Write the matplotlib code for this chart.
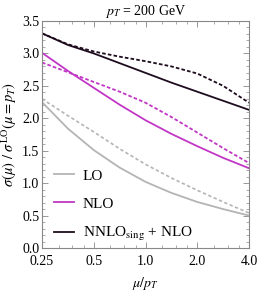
import matplotlib
matplotlib.use("Agg")
import matplotlib.pyplot as plt
import numpy as np
from matplotlib.ticker import FixedLocator, NullFormatter, MultipleLocator

plt.rcParams['font.family'] = ['Liberation Serif', 'DejaVu Serif']
plt.rcParams['mathtext.fontset'] = 'stix'

# mu / pT values and ratios
mu = [0.25, 0.354, 0.5, 0.707, 1.0, 1.414, 2.0, 2.83, 4.0]
lo = [2.25, 1.84, 1.51, 1.24, 1.02, 0.85, 0.71, 0.60, 0.50]
lo_dash = [2.30, 2.04, 1.79, 1.53, 1.29, 1.08, 0.89, 0.71, 0.54]
nlo = [3.01, 2.73, 2.47, 2.21, 1.97, 1.76, 1.57, 1.39, 1.23]
nlo_dash = [2.86, 2.71, 2.56, 2.41, 2.24, 2.02, 1.78, 1.54, 1.31]
nnlo = [3.31, 3.13, 3.00, 2.85, 2.70, 2.55, 2.41, 2.27, 2.13]
nnlo_dash = [3.31, 3.14, 3.03, 2.95, 2.88, 2.80, 2.69, 2.50, 2.24]

xticks = [0.25, 0.5, 1.0, 2.0, 4.0]
xticklabels = ["0.25", "0.5", "1.0", "2.0", "4.0"]

c_lo = '#b4b4b4'
c_nlo = '#c236c6'
c_nnlo = '#1e0c1e'

fig = plt.figure(figsize=(2.58, 2.91), dpi=100)
ax = fig.add_axes([42/258, 43/291, 207/258, 227/291])

ax.plot(mu, lo_dash, color=c_lo, lw=1.2, ls=(0, (2, 1.5)))
ax.plot(mu, lo, color=c_lo, lw=1.3, label='LO')
ax.plot(mu, nlo_dash, color=c_nlo, lw=1.3, ls=(0, (2, 1.2)))
ax.plot(mu, nlo, color=c_nlo, lw=1.3, label='NLO')
ax.plot(mu, nnlo_dash, color=c_nnlo, lw=1.3, ls=(0, (2, 1.2)))
ax.plot(mu, nnlo, color=c_nnlo, lw=1.3, label=r'NNLO$_{\rm sing}$ + NLO')

ax.set_xscale('log', base=2)
ax.set_xlim(0.25, 4.0)
ax.set_ylim(0, 3.5)
ax.xaxis.set_major_locator(FixedLocator(xticks))
ax.set_xticklabels(xticklabels)
minor = [m * f for m in [0.25, 0.5, 1, 2] for f in [1.25, 1.5, 1.75]]
ax.xaxis.set_minor_locator(FixedLocator(minor))
ax.xaxis.set_minor_formatter(NullFormatter())
ax.yaxis.set_minor_locator(MultipleLocator(0.1))
ax.set_yticks([0, 0.5, 1.0, 1.5, 2.0, 2.5, 3.0, 3.5])
ax.set_yticklabels(["0.0", "0.5", "1.0", "1.5", "2.0", "2.5", "3.0", "3.5"])

for s in ax.spines.values():
    s.set_color('#888888')
    s.set_linewidth(0.8)
ax.tick_params(which='both', direction='in', top=True, right=True,
               colors='#888888', labelcolor='black', labelsize=10)
ax.tick_params(axis='y', pad=2)
ax.tick_params(axis='x', pad=5)
ax.tick_params(which='major', length=4, width=0.6)
ax.tick_params(which='minor', length=2, width=0.5)

ax.set_title(r'$p_T$ = 200 GeV', fontsize=10, pad=4)
ax.set_xlabel(r'$\mu/p_T$', fontsize=10, labelpad=5)
ax.set_ylabel(r'$\sigma(\mu)\ /\ \sigma^{\rm LO}(\mu = p_T)$', fontsize=10.5, labelpad=2)

ax.legend(loc='lower left', bbox_to_anchor=(-0.01, -0.04), frameon=False,
          fontsize=11, handlelength=1.3, handletextpad=0.6, labelspacing=0.95)

fig.savefig('out.png', dpi=100)
